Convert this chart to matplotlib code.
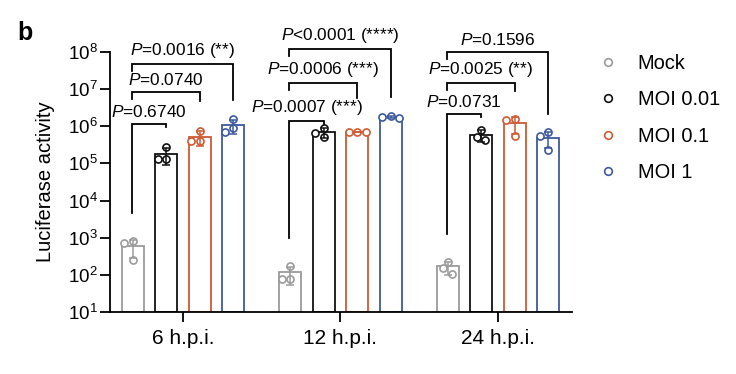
import numpy as np
import matplotlib
matplotlib.use('Agg')
import matplotlib.pyplot as plt
from matplotlib.lines import Line2D
from matplotlib.ticker import LogLocator, LogFormatterSciNotation, NullLocator

plt.rcParams['font.family'] = ['Liberation Sans', 'DejaVu Sans']
plt.rcParams['mathtext.fontset'] = 'custom'
plt.rcParams['mathtext.rm'] = 'Liberation Sans'
plt.rcParams['mathtext.it'] = 'Liberation Sans:italic'

# 数据：三个时间点，每组三个重复
timepoints = ['6 h.p.i.', '12 h.p.i.', '24 h.p.i.']
conditions = ['Mock', 'MOI 0.01', 'MOI 0.1', 'MOI 1']
mock = [[800, 720, 250], [173, 77, 77], [225, 150, 105]]
moi_001 = [[2.8e5, 1.3e5, 1.3e5], [9.1e5, 6.5e5, 5.2e5], [8.0e5, 5.0e5, 4.3e5]]
moi_01 = [[7.6e5, 3.9e5, 3.9e5], [7.2e5, 7.0e5, 6.8e5], [1.55e6, 1.5e6, 5.5e5]]
moi_1 = [[1.58e6, 8.9e5, 7.1e5], [1.95e6, 1.8e6, 1.7e6], [6.8e5, 5.5e5, 2.3e5]]
p_labels = [
    ['=0.6740', '=0.0740', '=0.0016 (**)'],
    ['=0.0007 (***)', '=0.0006 (***)', '<0.0001 (****)'],
    ['=0.0731', '=0.0025 (**)', '=0.1596'],
]

# 样式
colors = ['#9b9b9b', '#111111', '#cf5a33', '#3d5a9e']
bar_step = 0.213
bar_w = 0.14
# 括号高度（log10），标注布局
bracket_levels = [[6.07, 6.92, 7.68], [6.15, 7.17, 8.08], [6.33, 7.16, 7.99]]

series = [mock, moi_001, moi_01, moi_1]

fig = plt.figure(figsize=(7.36, 3.74), dpi=100)
ax = fig.add_axes([0.1495, 0.1658, 0.6277, 0.6952])
xmin, xmax = -0.463, 2.47
ax.set_xlim(xmin, xmax)
ax.set_yscale('log')
ax.set_ylim(10, 1e8)

px_x = 7.36 * 100 * 0.6277 / (xmax - xmin)
px_dec = 3.74 * 100 * 0.6952 / 7
diam = 8.5


def swarm(vals):
    # 简单的蜂群排布，避免圆点重叠
    ly = np.log10(vals) * px_dec
    order = np.argsort(-ly)
    placed = []
    offs = np.zeros(len(vals))
    for i in order:
        for c in [0, -0.5, 0.5, -1, 1, -1.5, 1.5]:
            xo = c * diam
            if all((xo - px) ** 2 + (ly[i] - py) ** 2 >= (diam * 0.9) ** 2 for px, py in placed):
                break
        placed.append((xo, ly[i]))
        offs[i] = xo / px_x
    return offs


for g in range(len(timepoints)):
    for k, s in enumerate(series):
        vals = np.array(s[g], dtype=float)
        x = g + (k - 1.5) * bar_step
        m = vals.mean()
        sd = vals.std(ddof=1)
        ax.bar(x, m, width=bar_w, bottom=10, facecolor='white', edgecolor=colors[k],
               linewidth=1.3, zorder=2)
        ax.scatter(x + swarm(vals), vals, s=26, facecolors='white', edgecolors=colors[k],
                   linewidths=1.2, zorder=3)
        ax.errorbar(x, m, yerr=[[min(sd, m * 0.9)], [sd]], color=colors[k], lw=1.1,
                    capsize=3.2, capthick=1.1, zorder=4)

# 显著性括号
for g in range(len(timepoints)):
    xs = [g + (k - 1.5) * bar_step for k in range(4)]
    tops = [np.log10(max(s[g])) for s in series]
    for j in range(3):
        lv = bracket_levels[g][j]
        x0, x1 = xs[0] - 0.005, xs[j + 1]
        if j == 0:
            left = tops[0] + 0.75
            right = lv - 0.08
        else:
            left = lv - 0.18
            right = bracket_levels[g][0] + 0.62 if j == 1 else tops[3] + 0.5
        ax.plot([x0, x0, x1, x1], [10 ** left, 10 ** lv, 10 ** lv, 10 ** right],
                color='black', lw=1.3, clip_on=False, zorder=5, solid_joinstyle='miter')
        ax.annotate('$P$' + p_labels[g][j], xy=((x0 + x1) / 2, 10 ** lv), xytext=(0, 3),
                    textcoords='offset points', ha='center', va='bottom', fontsize=12.4,
                    annotation_clip=False)

# 坐标轴
ax.spines['top'].set_visible(False)
ax.spines['right'].set_visible(False)
for sp in ['left', 'bottom']:
    ax.spines[sp].set_linewidth(1.3)
ax.yaxis.set_major_locator(LogLocator(base=10, numticks=10))
ax.yaxis.set_major_formatter(LogFormatterSciNotation())
ax.yaxis.set_minor_locator(NullLocator())
ax.set_xticks(range(len(timepoints)))
ax.set_xticklabels(timepoints, fontsize=15)
ax.tick_params(axis='both', width=1.3, length=7)
ax.tick_params(axis='y', labelsize=13.5, pad=2)
ax.tick_params(axis='x', pad=5)
ax.set_ylabel('Luciferase activity', fontsize=14.5)
ax.yaxis.set_label_coords(-0.12, 0.5)

fig.text(0.034, 0.912, 'b', fontsize=18, fontweight='bold', ha='center', va='center')

# 图例
handles = [Line2D([], [], marker='o', ls='none', markersize=5.5, markerfacecolor='white',
                  markeredgecolor=c, markeredgewidth=1.2) for c in colors]
fig.legend(handles, conditions, loc='upper left', bbox_to_anchor=(0.815, 0.856),
           frameon=False, fontsize=14.4, handlelength=0.8, handletextpad=1.1,
           labelspacing=0.87, borderpad=0, borderaxespad=0)

plt.savefig('out.png', dpi=100)
